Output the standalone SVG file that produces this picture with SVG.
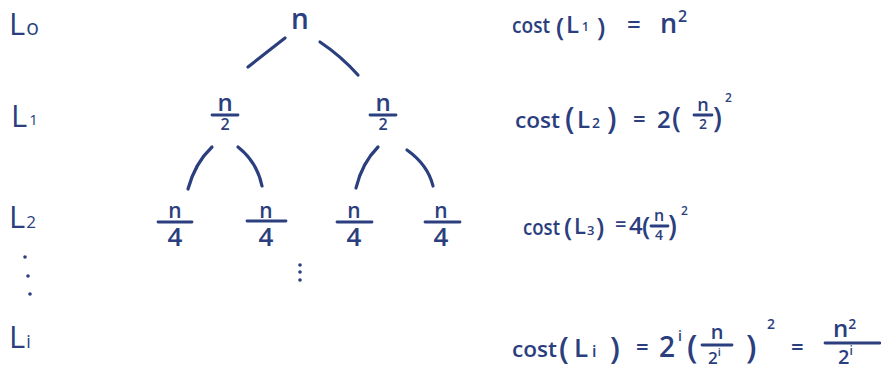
<svg xmlns="http://www.w3.org/2000/svg" width="881" height="368" viewBox="0 0 881 368">
<style>
.t{font-family:"Open Sans","Liberation Sans",sans-serif;fill:#2b3e7e;font-weight:600}
.l{font-weight:400}
.m{text-anchor:middle}
.e{stroke:#2b3e7e;stroke-width:3.2;fill:none;stroke-linecap:round}
.b{stroke:#2b3e7e;stroke-width:2.8;stroke-linecap:round}
.d{fill:#2b3e7e}
</style>
<rect width="881" height="368" fill="#ffffff"/>

<g id="levels">
  <text class="t l" x="9" y="35" font-size="31">L<tspan font-size="21" dx="1">o</tspan></text>
  <text class="t l" x="11" y="127" font-size="31">L<tspan font-size="15" dx="2" dy="-2">1</tspan></text>
  <text class="t l" x="9" y="228" font-size="31">L<tspan font-size="17" dx="1">2</tspan></text>
  <circle class="d" cx="25" cy="257" r="1.8"/>
  <circle class="d" cx="28" cy="276" r="1.8"/>
  <circle class="d" cx="30" cy="294" r="1.8"/>
  <text class="t l" x="9" y="348" font-size="31">L<tspan font-size="18" dx="1">i</tspan></text>
</g>

<g id="connectors">
  <path class="e" d="M285,38 Q267,52 248,67"/>
  <path class="e" d="M320,42 Q341,56 358,75"/>
  <path class="e" d="M212,147 Q195,163 188,189"/>
  <path class="e" d="M238,147 Q257,162 262,186"/>
  <path class="e" d="M378,147 Q362,163 356,188"/>
  <path class="e" d="M407,150 Q428,165 433,186"/>
</g>

<g id="root">
  <text class="t m" x="300" y="29" font-size="28">n</text>
</g>
<g id="n2-left">
  <text class="t m" x="225" y="111" font-size="24">n</text>
  <line class="b" x1="212" y1="115" x2="238" y2="115"/>
  <text class="t m" x="225" y="130" font-size="16">2</text>
</g>
<g id="n2-right">
  <text class="t m" x="383" y="111" font-size="24">n</text>
  <line class="b" x1="370" y1="115" x2="396" y2="115"/>
  <text class="t m" x="383" y="130" font-size="16">2</text>
</g>
<g id="n4-a">
  <text class="t m" x="175" y="218" font-size="21">n</text>
  <line class="b" x1="158" y1="222" x2="192" y2="222"/>
  <text class="t m" x="175" y="246" font-size="26">4</text>
</g>
<g id="n4-b">
  <text class="t m" x="266" y="218" font-size="21">n</text>
  <line class="b" x1="247" y1="221" x2="286" y2="221"/>
  <text class="t m" x="266" y="246" font-size="26">4</text>
</g>
<g id="n4-c">
  <text class="t m" x="354" y="218" font-size="21">n</text>
  <line class="b" x1="337" y1="222" x2="372" y2="222"/>
  <text class="t m" x="354" y="246" font-size="26">4</text>
</g>
<g id="n4-d">
  <text class="t m" x="441" y="218" font-size="21">n</text>
  <line class="b" x1="425" y1="222" x2="460" y2="222"/>
  <text class="t m" x="441" y="246" font-size="26">4</text>
</g>
<g id="mid-dots">
  <circle class="d" cx="300" cy="265" r="1.8"/>
  <circle class="d" cx="300" cy="272" r="1.8"/>
  <circle class="d" cx="300" cy="280" r="1.8"/>
</g>

<g id="cost0">
  <text class="t" x="512" y="33" font-size="22" textLength="38" lengthAdjust="spacingAndGlyphs">cost</text>
  <text class="t" x="556" y="36" font-size="26">(</text>
  <text class="t" x="566" y="33" font-size="24">L</text>
  <text class="t" x="582" y="31" font-size="12">1</text>
  <text class="t" x="597" y="36" font-size="26">)</text>
  <text class="t" x="627" y="33" font-size="24">=</text>
  <text class="t" x="660" y="33" font-size="27">n</text>
  <text class="t" x="678" y="22" font-size="16">2</text>
</g>

<g id="cost1">
  <text class="t" x="515" y="128" font-size="22" textLength="45" lengthAdjust="spacingAndGlyphs">cost</text>
  <text class="t" x="565" y="129" font-size="30">(</text>
  <text class="t" x="577" y="128" font-size="24">L</text>
  <text class="t" x="592" y="128" font-size="14">2</text>
  <text class="t" x="607" y="129" font-size="30">)</text>
  <text class="t" x="633" y="127" font-size="22">=</text>
  <text class="t" x="657" y="128" font-size="24">2</text>
  <text class="t" x="672" y="128" font-size="28">(</text>
  <text class="t m" x="703" y="111" font-size="18">n</text>
  <line class="b" x1="694" y1="115" x2="712" y2="115"/>
  <text class="t m" x="703" y="129" font-size="14">2</text>
  <text class="t" x="713" y="128" font-size="28">)</text>
  <text class="t" x="725" y="102" font-size="12">2</text>
</g>

<g id="cost2">
  <text class="t" x="523" y="235" font-size="22" textLength="37" lengthAdjust="spacingAndGlyphs">cost</text>
  <text class="t" x="564" y="236" font-size="26">(</text>
  <text class="t" x="574" y="234" font-size="22">L</text>
  <text class="t" x="587" y="235" font-size="13">3</text>
  <text class="t" x="596" y="236" font-size="26">)</text>
  <text class="t" x="615" y="231" font-size="20">=</text>
  <text class="t" x="629" y="234" font-size="24">4</text>
  <text class="t" x="642" y="235" font-size="26">(</text>
  <text class="t m" x="659" y="221" font-size="16">n</text>
  <line class="b" x1="651" y1="226" x2="668" y2="226"/>
  <text class="t m" x="659" y="240" font-size="14">4</text>
  <text class="t" x="668" y="236" font-size="28">)</text>
  <text class="t" x="681" y="215" font-size="12">2</text>
</g>

<g id="costi">
  <text class="t" x="512" y="357" font-size="22" textLength="45" lengthAdjust="spacingAndGlyphs">cost</text>
  <text class="t" x="559" y="359" font-size="31">(</text>
  <text class="t" x="574" y="357" font-size="26">L</text>
  <text class="t" x="592" y="357" font-size="16">i</text>
  <text class="t" x="610" y="359" font-size="31">)</text>
  <text class="t" x="636" y="355" font-size="22">=</text>
  <text class="t" x="659" y="357" font-size="28">2</text>
  <text class="t" x="678" y="341" font-size="14">i</text>
  <text class="t" x="687" y="358" font-size="33">(</text>
  <text class="t m" x="717" y="339" font-size="20">n</text>
  <line class="b" x1="702" y1="345" x2="732" y2="345"/>
  <text class="t" x="708" y="364" font-size="17">2<tspan font-size="11" dy="-8">i</tspan></text>
  <text class="t" x="746" y="358" font-size="33">)</text>
  <text class="t" x="767" y="329" font-size="14">2</text>
  <text class="t" x="791" y="355" font-size="22">=</text>
  <text class="t" x="833" y="337" font-size="24">n<tspan font-size="14" dy="-8">2</tspan></text>
  <line class="b" x1="825" y1="343" x2="880" y2="343"/>
  <text class="t" x="838" y="364" font-size="20">2<tspan font-size="12" dy="-9">i</tspan></text>
</g>
</svg>
